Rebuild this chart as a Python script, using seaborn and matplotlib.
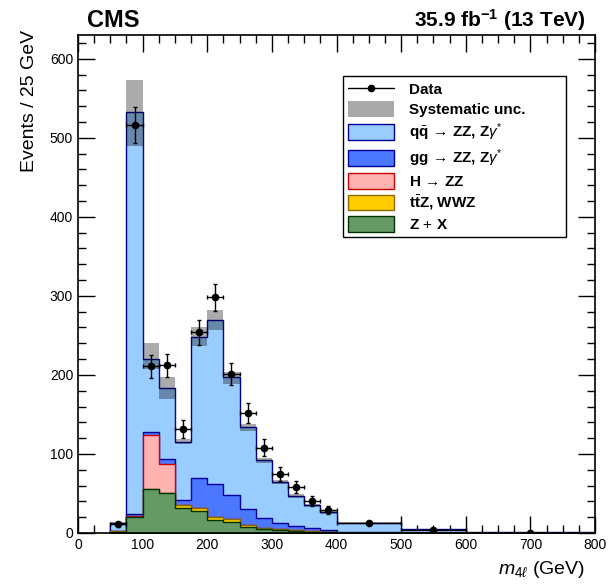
import numpy as np
import pandas as pd
import matplotlib
matplotlib.use("Agg")
import matplotlib.pyplot as plt
from matplotlib.patches import Patch
from matplotlib.lines import Line2D
from matplotlib.ticker import MultipleLocator
import seaborn as sns

# ---------------- data ----------------
bin_edges = [50, 75, 100, 125, 150, 175, 200, 225, 250, 275, 300, 325, 350,
             375, 400, 500, 600, 800]

# events / 25 GeV per process (stack order bottom -> top)
zx_vals  = [1.7, 19.8, 55.6, 50.5, 31.6, 28.0, 16.5, 14.3, 8.0, 5.0, 3.4, 2.3,
            1.7, 1.2, 0.4, 0.1, 0.05]
ttz_vals = [0.2, 0.5, 0.4, 0.5, 3.4, 3.5, 3.2, 3.2, 2.3, 1.7, 1.2, 1.1,
            0.8, 0.5, 0.2, 0.1, 0.03]
hzz_vals = [0.1, 1.6, 67.4, 36.6, 0.5, 0.5, 0.3, 0.2, 0.1, 0.1, 0.1, 0.1,
            0.1, 0.1, 0.0, 0.0, 0.0]
gg_vals  = [0.7, 1.7, 4.2, 5.9, 6.5, 37.0, 42.0, 30.7, 19.6, 11.7, 8.3, 5.8,
            3.4, 2.0, 0.9, 0.4, 0.12]
qq_vals  = [9.6, 509.4, 92.4, 90.5, 73.0, 179.0, 207.5, 148.6, 104.5, 73.5,
            52.0, 37.7, 29.4, 22.2, 11.5, 4.0, 0.8]

syst_up   = [1.0, 40, 20, 13, 4, 12, 12.5, 7, 4, 3, 2.5, 2, 1.5, 1.2, 0.6, 0.2, 0.1]
syst_down = [1.0, 44, 12, 14, 2, 12, 12.5, 9, 5, 4, 3, 2.5, 2, 1.5, 0.8, 0.3, 0.1]

data_vals = [11, 516, 211, 212, 132, 254, 298, 201, 152, 108, 75, 58.5,
             40, 29, 13, 4, 0.5]
data_errs = [3.4, 23, 14.5, 14.6, 11.5, 16, 17.2, 14.2, 12.3, 10.4, 8.7, 7.6,
             6.3, 5.4, 1.8, 1.0, 0.4]

proc_names = [r"Z$\,+\,$X", r"t$\bar{\mathbf{t}}$Z, WWZ", r"H$\,\rightarrow\,$ZZ",
              r"gg$\,\rightarrow\,$ZZ, Z$\gamma^{*}$",
              r"q$\bar{\mathbf{q}}\,\rightarrow\,$ZZ, Z$\gamma^{*}$"]
face_cols = ["#669966", "#ffcc00", "#ffb2b2", "#4b78ff", "#99ccff"]
edge_cols = ["#003300", "#8a6a00", "#cc0000", "#000099", "#000099"]

# ---------------- style ----------------
sns.set_theme(style="ticks")
plt.rcParams["font.family"] = ["Liberation Sans", "DejaVu Sans"]
plt.rcParams["mathtext.fontset"] = "custom"
plt.rcParams["mathtext.rm"] = "Liberation Sans"
plt.rcParams["mathtext.it"] = "Liberation Sans:italic"
plt.rcParams["mathtext.bf"] = "Liberation Sans:bold"
for k in ["text.color", "axes.labelcolor", "xtick.color", "ytick.color",
          "axes.edgecolor"]:
    plt.rcParams[k] = "black"

edges = np.array(bin_edges, dtype=float)
centers = 0.5 * (edges[:-1] + edges[1:])
halfw = 0.5 * (edges[1:] - edges[:-1])

layers = np.array([zx_vals, ttz_vals, hzz_vals, gg_vals, qq_vals], dtype=float)
cum = np.cumsum(layers, axis=0)
total = cum[-1]

fig = plt.figure(figsize=(6.12, 5.86), dpi=100)
ax = fig.add_axes([78 / 612, 53 / 586, 517 / 612, 498 / 586])

# draw stacked layers: top cumulative first, then lower ones over it
for i in range(len(layers) - 1, -1, -1):
    df = pd.DataFrame({"m4l": centers, "w": cum[i]})
    sns.histplot(data=df, x="m4l", weights="w", bins=list(bin_edges), element="step",
                 fill=True, color=face_cols[i], edgecolor=edge_cols[i],
                 linewidth=1.0, alpha=1.0, ax=ax)

# systematic uncertainty band
lo = total - np.array(syst_down)
hi = total + np.array(syst_up)
ax.bar(centers, hi - lo, bottom=lo, width=2 * halfw, color="black",
       alpha=0.33, linewidth=0, zorder=5)

# data
ax.errorbar(centers, data_vals, xerr=halfw, yerr=data_errs, fmt="o",
            color="black", ms=4.5, elinewidth=1.0, capsize=1.5,
            capthick=1.0, zorder=10)

ax.set_xlim(0, 800)
ax.set_ylim(0, 630)
ax.xaxis.set_major_locator(MultipleLocator(100))
ax.xaxis.set_minor_locator(MultipleLocator(25))
ax.yaxis.set_major_locator(MultipleLocator(100))
ax.yaxis.set_minor_locator(MultipleLocator(20))
ax.tick_params(which="both", direction="in", top=True, right=True,
               width=1.0, colors="black", labelsize=10)
ax.tick_params(which="major", length=12)
ax.tick_params(which="minor", length=6)
for s in ax.spines.values():
    s.set_linewidth(1.2)
    s.set_color("black")

ax.set_xlabel(r"$m_{4\ell}$ (GeV)", fontsize=14, loc="right")
ax.set_ylabel("Events / 25 GeV", fontsize=14, loc="top")
ax.xaxis.set_label_coords(0.98, -0.052)
ax.yaxis.set_label_coords(-0.077, 1.01)

fig.text(87 / 612, 1 - 27 / 586, "CMS", fontsize=17, fontweight="bold",
         ha="left", va="baseline")
fig.text(586 / 612, 1 - 27 / 586, r"35.9 fb$^{\mathbf{-1}}$ (13 TeV)",
         fontsize=15, fontweight="bold", ha="right", va="baseline")

# legend
data_handle = Line2D([], [], color="black", marker="o", ms=4.5, lw=1.0)
handles = [data_handle, Patch(facecolor="#a9a9a9", edgecolor="none")]
labels = ["Data", "Systematic unc."]
for i in range(len(layers) - 1, -1, -1):
    handles.append(Patch(facecolor=face_cols[i], edgecolor=edge_cols[i], linewidth=1.0))
    labels.append(proc_names[i])

x0 = 343 / 612
y1 = 1 - 76 / 586
w = (566 - 343) / 612
h = (235 - 76) / 586
leg = ax.legend(handles, labels, loc="upper left",
                bbox_to_anchor=(x0, y1 - h, w, h), bbox_transform=fig.transFigure,
                mode="expand", borderaxespad=0, fancybox=False, framealpha=1,
                edgecolor="black", handlelength=3.0, handleheight=1.2,
                handletextpad=1.0, labelspacing=0.27, borderpad=0.35,
                numpoints=1, prop={"weight": "bold", "size": 11})
leg.get_frame().set_linewidth(1.0)

fig.savefig("out.png", dpi=100)
